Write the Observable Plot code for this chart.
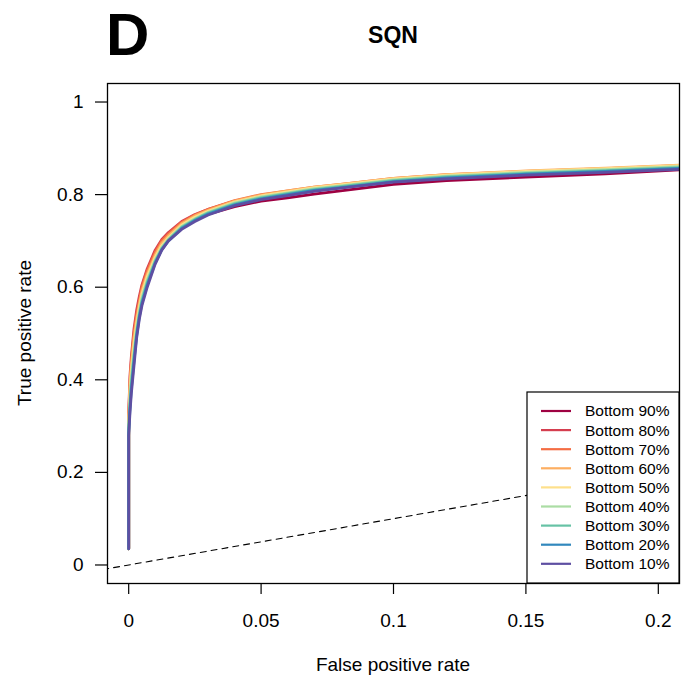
<!DOCTYPE html>
<html>
<head>
<meta charset="utf-8">
<script src="https://cdn.jsdelivr.net/npm/d3@7"></script>
<script src="https://cdn.jsdelivr.net/npm/@observablehq/plot@0.6"></script>
<style>
  html, body { margin: 0; padding: 0; background: #fff; }
  svg { display: block; }
</style>
</head>
<body>
<div id="chart"></div>
<script>
// ---- data ----
const panelLetter = "D";
const chartTitle = "SQN";
const xLabel = "False positive rate";
const yLabel = "True positive rate";

const series = ["Bottom 90%", "Bottom 80%", "Bottom 70%", "Bottom 60%", "Bottom 50%",
                "Bottom 40%", "Bottom 30%", "Bottom 20%", "Bottom 10%"];
const colors = ["#9E0142", "#D53E4F", "#F46D43", "#FDAE61", "#FEE08B",
                "#ABDDA4", "#66C2A5", "#3288BD", "#5E4FA2"];

const xTicks = [0, 0.05, 0.1, 0.15, 0.2];
const xTickLabels = ["0", "0.05", "0.1", "0.15", "0.2"];
const yTicks = [0, 0.2, 0.4, 0.6, 0.8, 1];
const yTickLabels = ["0", "0.2", "0.4", "0.6", "0.8", "1"];

// shared false positive rates
const fpr = [0, 0, 0.0005, 0.001, 0.002, 0.003, 0.004, 0.005, 0.007, 0.010, 0.0125, 0.015,
             0.02, 0.025, 0.03, 0.04, 0.05, 0.06, 0.07, 0.08, 0.1, 0.12, 0.15, 0.18, 0.21];

const tpr90 = [0.035, 0.30, 0.37, 0.41, 0.47, 0.515, 0.55, 0.58, 0.618, 0.66, 0.687, 0.705,
               0.73, 0.746, 0.758, 0.774, 0.786, 0.793, 0.801, 0.808, 0.822, 0.830, 0.838, 0.845, 0.854];
const tpr80 = [0.035, 0.33, 0.41, 0.45, 0.51, 0.55, 0.58, 0.605, 0.64, 0.68, 0.703, 0.718,
               0.742, 0.757, 0.768, 0.786, 0.798, 0.806, 0.813, 0.819, 0.831, 0.839, 0.847, 0.853, 0.860];
const tpr70 = [0.035, 0.32, 0.40, 0.44, 0.50, 0.54, 0.57, 0.60, 0.635, 0.675, 0.70, 0.715,
               0.74, 0.756, 0.768, 0.787, 0.80, 0.808, 0.816, 0.822, 0.835, 0.843, 0.850, 0.856, 0.863];
const tpr60 = [0.035, 0.31, 0.39, 0.43, 0.49, 0.53, 0.563, 0.592, 0.628, 0.669, 0.695, 0.711,
               0.737, 0.754, 0.766, 0.786, 0.799, 0.808, 0.816, 0.822, 0.835, 0.843, 0.851, 0.857, 0.864];
const tpr50 = [0.035, 0.30, 0.375, 0.42, 0.475, 0.52, 0.555, 0.585, 0.622, 0.664, 0.69, 0.707,
               0.734, 0.751, 0.764, 0.784, 0.797, 0.806, 0.815, 0.821, 0.834, 0.842, 0.850, 0.856, 0.863];
const tpr40 = [0.035, 0.295, 0.36, 0.405, 0.46, 0.51, 0.547, 0.577, 0.615, 0.659, 0.686, 0.704,
               0.731, 0.748, 0.762, 0.782, 0.795, 0.804, 0.813, 0.819, 0.832, 0.840, 0.848, 0.854, 0.861];
const tpr30 = [0.035, 0.29, 0.35, 0.39, 0.45, 0.50, 0.54, 0.57, 0.61, 0.655, 0.683, 0.702,
               0.729, 0.746, 0.760, 0.780, 0.793, 0.802, 0.811, 0.817, 0.830, 0.838, 0.846, 0.852, 0.859];
const tpr20 = [0.035, 0.285, 0.34, 0.38, 0.44, 0.495, 0.535, 0.565, 0.605, 0.652, 0.681, 0.70,
               0.727, 0.744, 0.758, 0.778, 0.791, 0.800, 0.809, 0.815, 0.828, 0.836, 0.844, 0.850, 0.857];
const tpr10 = [0.035, 0.28, 0.33, 0.37, 0.43, 0.49, 0.53, 0.56, 0.60, 0.65, 0.68, 0.70,
               0.725, 0.742, 0.756, 0.776, 0.789, 0.798, 0.807, 0.814, 0.827, 0.834, 0.842, 0.848, 0.855];

// reference diagonal y = x
const refLine = [-1, 1];

// ---- build table ----
const tprs = [tpr90, tpr80, tpr70, tpr60, tpr50, tpr40, tpr30, tpr20, tpr10];
const rows = [];
series.forEach((s, i) => fpr.forEach((f, j) => rows.push({series: s, fpr: f, tpr: tprs[i][j]})));
const diag = refLine.map(v => ({x: v, y: v}));

const font = "'Liberation Sans', Arial, Helvetica, sans-serif";

const M = {left: 107, right: 10, top: 83, bottom: 97};
const W = 689, H = 680;

const plot = Plot.plot({
  width: W,
  height: H,
  marginLeft: M.left,
  marginRight: M.right,
  marginTop: M.top,
  marginBottom: M.bottom,
  style: {fontFamily: font, background: "#fff", color: "#000"},
  x: {domain: [-0.008, 0.208]},
  y: {domain: [-0.04, 1.04]},
  color: {domain: series, range: colors},
  marks: [
    Plot.line(diag, {x: "x", y: "y", stroke: "#000", strokeWidth: 1.1, strokeDasharray: "6,5", clip: true}),
    Plot.line(rows, {x: "fpr", y: "tpr", z: "series", stroke: "series", strokeWidth: 2.8,
                     strokeLinecap: "round", strokeLinejoin: "round", clip: true}),
    Plot.axisX(xTicks, {tickSize: 11, tickPadding: 19, fontSize: 19, strokeWidth: 1.2,
                        tickFormat: (d, i) => xTickLabels[i], label: null}),
    Plot.axisY(yTicks, {tickSize: 12, tickPadding: 12, fontSize: 19, strokeWidth: 1.2,
                        tickFormat: (d, i) => yTickLabels[i], label: null}),
    Plot.frame({stroke: "#000", strokeWidth: 1.3})
  ]
});

document.getElementById("chart").appendChild(plot);

// ---- titles, axis labels, legend ----
const svg = d3.select(plot);
const pLeft = M.left, pRight = W - M.right, pTop = M.top, pBottom = H - M.bottom;
const cx = (pLeft + pRight) / 2, cy = (pTop + pBottom) / 2;

svg.append("text").attr("x", 106).attr("y", 55).attr("text-anchor", "start")
  .attr("font-family", font).attr("font-weight", "bold").attr("font-size", 60).text(panelLetter);
svg.append("text").attr("x", cx).attr("y", 43).attr("text-anchor", "middle")
  .attr("font-family", font).attr("font-weight", "bold").attr("font-size", 23).text(chartTitle);
svg.append("text").attr("x", cx).attr("y", 671).attr("text-anchor", "middle")
  .attr("font-family", font).attr("font-size", 19).text(xLabel);
svg.append("text").attr("transform", `translate(31,${cy}) rotate(-90)`).attr("text-anchor", "middle")
  .attr("font-family", font).attr("font-size", 19).text(yLabel);

// legend (bottom-right, inside plot)
const lg = svg.append("g");
const lgW = 152, lgH = 191;
lg.append("rect").attr("x", pRight - lgW).attr("y", pBottom - lgH).attr("width", lgW).attr("height", lgH)
  .attr("fill", "#fff").attr("stroke", "#000").attr("stroke-width", 1.2);
series.forEach((s, i) => {
  const ry = pBottom - lgH + 19 + i * 19.1;
  lg.append("line").attr("x1", pRight - lgW + 14).attr("x2", pRight - lgW + 44)
    .attr("y1", ry).attr("y2", ry).attr("stroke", colors[i]).attr("stroke-width", 2.2);
  lg.append("text").attr("x", pRight - lgW + 58).attr("y", ry).attr("dy", "0.35em")
    .attr("text-anchor", "start")
    .attr("font-family", font).attr("font-size", 15.5).text(s);
});
</script>
</body>
</html>
